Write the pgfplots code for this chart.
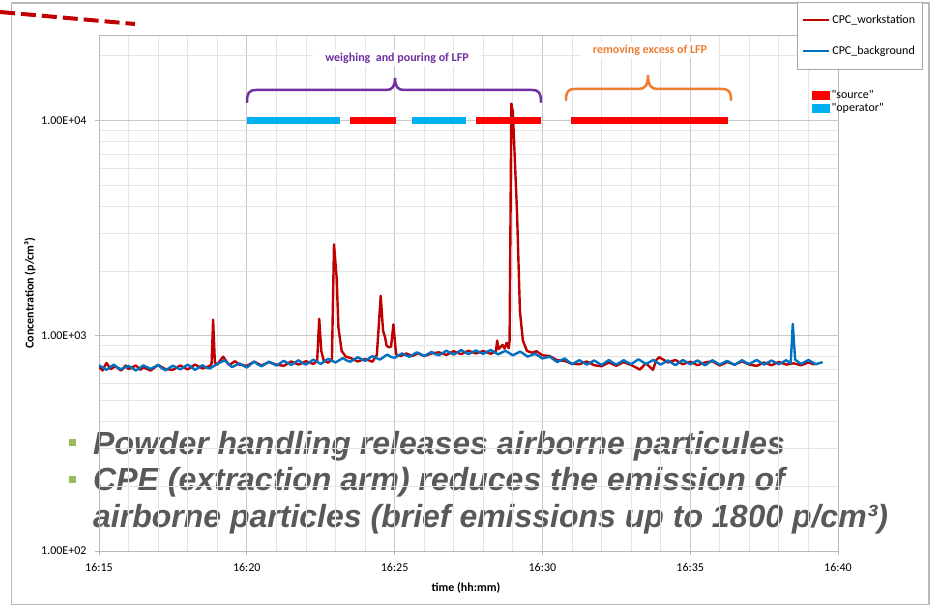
\documentclass[border=0pt]{standalone}
\usepackage{pgfplots}
\pgfplotsset{compat=1.18}
\usepackage{fontspec}
\setmainfont{Carlito}
\newfontfamily\arialfont{Liberation Sans}
\definecolor{wsred}{RGB}{192,0,0}
\definecolor{bgblue}{RGB}{0,112,192}
\definecolor{srcred}{RGB}{255,0,0}
\definecolor{opcyan}{RGB}{0,176,240}
\definecolor{brpurple}{RGB}{112,48,160}
\definecolor{brorange}{RGB}{237,125,49}
\definecolor{bulgreen}{RGB}{155,187,89}
\definecolor{txtgray}{RGB}{89,89,89}
\begin{document}
\begin{tikzpicture}
\useasboundingbox (-99pt,-55pt) rectangle (833pt,551pt);
\draw[gray!55, line width=1.2pt] (-87.5pt,548pt) rectangle (830pt,-53.5pt);
\draw[wsred, line width=4pt, dash pattern=on 15pt off 6pt] (-99pt,539pt) -- (36pt,527pt);
% overlay text (behind the grid)
\fill[bulgreen] (-30pt,105.5pt) rectangle (-23pt,112.5pt);
\fill[bulgreen] (-30pt,68.5pt) rectangle (-23pt,75.5pt);
\begin{scope}[every node/.style={anchor=base west, inner sep=0pt, text=txtgray, font=\arialfont\bfseries\itshape\fontsize{32}{36}\selectfont}]
\node at (-6pt,97pt) {Powder handling releases airborne particules};
\node at (-6pt,60.5pt) {CPE (extraction arm) reduces the emission of};
\node at (-6pt,24pt) {airborne particles (brief emissions up to 1800 p/cm³)};
\end{scope}
\begin{axis}[
  scale only axis, width=739pt, height=516pt,
  xmin=15, xmax=40, ymin=100, ymax=25000, ymode=log,
  xtick={15,20,25,30,35,40},
  xticklabels={16:15,16:20,16:25,16:30,16:35,16:40},
  minor xtick={16,17,18,19,21,22,23,24,26,27,28,29,31,32,33,34,36,37,38,39},
  ytick={100,1000,10000},
  yticklabels={1.00E+02,1.00E+03,1.00E+04},
  minor ytick={200,300,400,500,600,700,800,900,2000,3000,4000,5000,6000,7000,8000,9000,20000},
  grid=both,
  major grid style={gray!42, line width=0.8pt},
  minor grid style={gray!20, line width=0.8pt},
  axis line style={gray!55, line width=0.9pt},
  tick align=outside, major tick length=4pt, minor tick length=0pt,
  xtick pos=bottom, ytick pos=left,
  tick style={gray!55, line width=0.8pt},
  tick label style={font=\fontsize{12}{14}\selectfont, text=black},
  xticklabel style={yshift=-5pt},
  yticklabel style={xshift=-5pt},
  xlabel={time (hh:mm)},
  ylabel={Concentration (p/cm³)},
  label style={font=\bfseries\fontsize{12}{14}\selectfont},
  xlabel style={at={(axis description cs:0.4966,-0.0717)}, anchor=center},
  ylabel style={at={(axis description cs:-0.0934,0.5)}, anchor=center},
  legend style={at={(0.9445,1.064)}, anchor=north west, draw=gray!70, line width=0.8pt,
    fill=white, font=\fontsize{12}{14}\selectfont, row sep=17pt, inner xsep=5pt, inner ysep=11pt,
    /tikz/every even column/.append style={column sep=2pt}},
  legend cell align=left,
  legend image code/.code={\draw[#1, line width=2pt] (0pt,0pt) -- (26pt,0pt);},
  every axis plot/.append style={line join=round},
]
\addplot[wsred, line width=2.4pt, mark=none] coordinates {
(15.00,718) (15.12,690) (15.25,748) (15.40,700) (15.55,722) (15.75,690) (15.90,728) (16.00,700)
(16.25,728) (16.40,695) (16.50,713) (16.75,690) (17.00,732) (17.25,700) (17.50,695) (17.75,728)
(18.00,698) (18.25,735) (18.50,705) (18.75,725) (18.81,742) (18.86,1187) (18.92,752) (19.00,735)
(19.20,800) (19.40,730) (19.60,762) (19.75,735) (20.00,725) (20.25,758) (20.50,728) (20.75,755)
(21.00,735) (21.25,725) (21.50,760) (21.75,735) (22.00,762) (22.25,740) (22.38,765) (22.45,1200)
(22.52,850) (22.60,770) (22.75,750) (22.88,780) (22.95,2660) (23.04,1860) (23.10,1090) (23.21,850)
(23.35,800) (23.50,790) (23.75,760) (24.00,780) (24.25,758) (24.40,815) (24.53,1535) (24.61,1055)
(24.68,980) (24.73,900) (24.80,885) (24.88,890) (24.96,1130) (25.05,820) (25.20,805) (25.40,828)
(25.60,805) (25.80,830) (26.00,805) (26.25,828) (26.50,838) (26.75,815) (27.00,848) (27.25,822)
(27.50,852) (27.75,828) (28.00,850) (28.25,825) (28.43,850) (28.47,950) (28.52,868) (28.65,907)
(28.72,872) (28.79,928) (28.86,875) (28.89,950) (28.95,12000) (29.00,11000) (29.14,3800) (29.24,1300)
(29.34,950) (29.48,850) (29.65,835) (29.80,848) (30.00,812) (30.25,805) (30.50,770) (30.75,765)
(31.00,742) (31.25,738) (31.50,760) (31.75,730) (32.00,722) (32.25,752) (32.50,725) (32.75,755)
(33.00,732) (33.30,697) (33.50,745) (33.74,695) (33.85,770) (33.95,796) (34.25,752) (34.50,772)
(34.75,738) (35.00,758) (35.25,730) (35.50,752) (35.75,762) (36.00,728) (36.25,755) (36.50,735)
(36.75,760) (37.00,735) (37.25,725) (37.50,752) (37.75,730) (38.00,756) (38.25,735) (38.50,745)
(38.75,730) (39.00,752) (39.20,735)
};
\addlegendentry{CPC\_workstation}
\addplot[bgblue, line width=2.4pt, mark=none] coordinates {
(15.00,730) (15.25,695) (15.50,735) (15.62,712) (15.75,700) (16.00,725) (16.25,690) (16.50,728)
(16.75,702) (17.00,732) (17.12,708) (17.25,692) (17.50,726) (17.75,698) (18.00,735) (18.25,695)
(18.50,730) (18.62,712) (18.75,705) (19.00,740) (19.25,770) (19.50,715) (19.75,745) (20.00,712)
(20.25,760) (20.38,735) (20.50,722) (20.75,758) (21.00,728) (21.25,765) (21.50,732) (21.75,770)
(21.88,748) (22.00,735) (22.25,775) (22.50,740) (22.75,782) (23.00,752) (23.25,788) (23.38,768)
(23.50,758) (23.75,795) (24.00,765) (24.25,805) (24.50,775) (24.75,818) (24.88,798) (25.00,790)
(25.25,828) (25.50,798) (25.75,838) (26.00,805) (26.25,842) (26.38,822) (26.50,812) (26.75,852)
(27.00,818) (27.25,858) (27.50,822) (27.75,855) (27.88,838) (28.00,825) (28.25,860) (28.50,820)
(28.75,852) (29.00,812) (29.25,845) (29.38,822) (29.50,800) (29.75,825) (30.00,785) (30.25,800)
(30.50,755) (30.75,785) (30.88,760) (31.00,738) (31.25,770) (31.50,735) (31.75,768) (32.00,732)
(32.25,772) (32.38,750) (32.50,735) (32.75,770) (33.00,738) (33.25,778) (33.50,740) (33.75,772)
(33.88,752) (34.00,735) (34.25,768) (34.50,730) (34.75,772) (35.00,738) (35.25,768) (35.38,748)
(35.50,728) (35.75,770) (36.00,735) (36.25,765) (36.50,732) (36.75,770) (36.88,752) (37.00,740)
(37.25,772) (37.50,735) (37.75,768) (38.00,738) (38.25,770) (38.40,745) (38.47,1137) (38.55,775)
(38.75,740) (39.00,772) (39.25,738) (39.48,755)
};
\addlegendentry{CPC\_background}
% activity bars
\addplot[opcyan, line width=7pt, forget plot] coordinates {(20.00,10000) (23.15,10000)};
\addplot[opcyan, line width=7pt, forget plot] coordinates {(25.60,10000) (27.41,10000)};
\addplot[srcred, line width=7pt, forget plot] coordinates {(23.49,10000) (25.05,10000)};
\addplot[srcred, line width=7pt, forget plot] coordinates {(27.75,10000) (29.94,10000)};
\addplot[srcred, line width=7pt, forget plot] coordinates {(30.96,10000) (36.27,10000)};
\end{axis}
% second legend
\begin{axis}[
  scale only axis, width=739pt, height=516pt, hide axis,
  xmin=0, xmax=1, ymin=0, ymax=1,
  legend style={at={(0.9648,0.8973)}, anchor=north west, draw=none, fill=none,
    font=\fontsize{12}{14}\selectfont, inner xsep=0pt, inner ysep=0pt, row sep=0pt,
    /tikz/every even column/.append style={column sep=2pt}},
  legend cell align=left,
  legend image code/.code={\fill[#1] (0pt,-4pt) rectangle (17pt,4pt);},
]
\addlegendimage{srcred}
\addlegendentry{\textquotedbl source\textquotedbl}
\addlegendimage{opcyan}
\addlegendentry{\textquotedbl operator\textquotedbl}
\end{axis}
% braces and activity titles
\draw[brpurple, line width=2.5pt, line cap=round] (148pt,449pt) .. controls (148pt,458pt) and (150pt,461pt) .. (157pt,461pt) -- (287pt,461pt) .. controls (293pt,461pt) and (296pt,464pt) .. (296pt,473pt) .. controls (296pt,464pt) and (299pt,461pt) .. (305pt,461pt) -- (433pt,461pt) .. controls (440pt,461pt) and (442pt,458pt) .. (442pt,449pt);
\draw[brorange, line width=2.5pt, line cap=round] (467pt,451pt) .. controls (467pt,459pt) and (469pt,462pt) .. (476pt,462pt) -- (540pt,462pt) .. controls (546pt,462pt) and (549pt,466pt) .. (549pt,476pt) .. controls (549pt,466pt) and (552pt,462pt) .. (558pt,462pt) -- (623pt,462pt) .. controls (630pt,462pt) and (632pt,459pt) .. (632pt,451pt);
\node[fill=white, inner xsep=12pt, inner ysep=3pt, text=brpurple, font=\bfseries\fontsize{12}{14}\selectfont] at (298pt,493pt) {weighing\ \ and pouring of LFP};
\node[fill=white, inner xsep=12pt, inner ysep=3pt, text=brorange, font=\bfseries\fontsize{12}{14}\selectfont] at (551pt,501pt) {removing excess of LFP};
\end{tikzpicture}
\end{document}
